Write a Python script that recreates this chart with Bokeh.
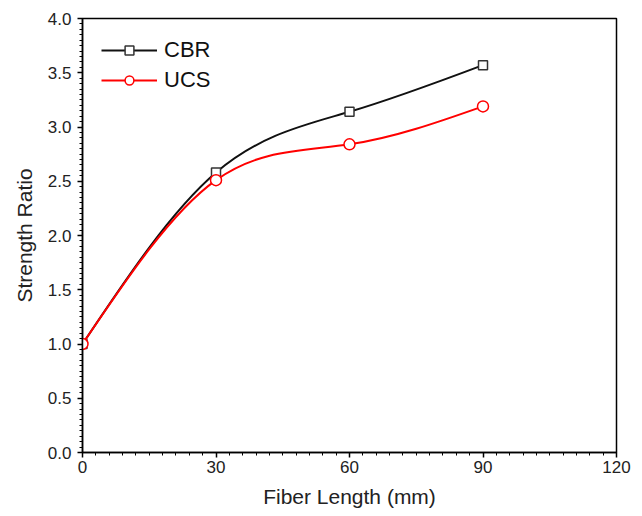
import numpy as np
from bokeh.plotting import figure
from bokeh.models import (Range1d, FixedTicker, PrintfTickFormatter,
                          Legend, LegendItem, ColumnDataSource)
from bokeh.embed import file_html
from bokeh.resources import INLINE

# ---- data ----
fiber_length = [0, 30, 60, 90]
cbr_ratio = [1.0, 2.58, 3.14, 3.57]
ucs_ratio = [1.0, 2.51, 2.84, 3.19]
series_names = ["CBR", "UCS"]
x_ticks = [0, 30, 60, 90, 120]
y_ticks = [0.0, 0.5, 1.0, 1.5, 2.0, 2.5, 3.0, 3.5, 4.0]


def spline_bezier(x, y):
    """Natural cubic spline through the points, returned as Bezier segments."""
    x = np.asarray(x, float)
    y = np.asarray(y, float)
    n = len(x)
    h = np.diff(x)
    d = np.diff(y) / h
    A = np.zeros((n, n))
    b = np.zeros(n)
    A[0, 0] = 1.0
    A[-1, -1] = 1.0
    for i in range(1, n - 1):
        A[i, i - 1] = h[i - 1]
        A[i, i] = 2 * (h[i - 1] + h[i])
        A[i, i + 1] = h[i]
        b[i] = 6 * (d[i] - d[i - 1])
    M = np.linalg.solve(A, b)
    sL = d - h * (2 * M[:-1] + M[1:]) / 6
    sR = d + h * (M[:-1] + 2 * M[1:]) / 6
    return dict(
        x0=x[:-1], y0=y[:-1], x1=x[1:], y1=y[1:],
        cx0=x[:-1] + h / 3, cy0=y[:-1] + sL * h / 3,
        cx1=x[1:] - h / 3, cy1=y[1:] - sR * h / 3,
    )


def minor_between(ticks, n):
    out = []
    for a, b in zip(ticks[:-1], ticks[1:]):
        step = (b - a) / n
        out.extend(a + step * k for k in range(1, n))
    return out


p = figure(width=642, height=516, output_backend="svg", toolbar_location=None,
           x_range=Range1d(0, 120), y_range=Range1d(0, 4.0),
           min_border_left=82, min_border_right=26,
           min_border_top=18, min_border_bottom=64)
p.background_fill_color = "white"
p.border_fill_color = "white"
p.xgrid.visible = False
p.ygrid.visible = False
p.outline_line_color = "black"
p.outline_line_width = 1.5

FONT = "Liberation Sans"

p.xaxis.ticker = FixedTicker(ticks=x_ticks, minor_ticks=minor_between(x_ticks, 10))
p.yaxis.ticker = FixedTicker(ticks=y_ticks, minor_ticks=minor_between(y_ticks, 10))
p.yaxis.formatter = PrintfTickFormatter(format="%.1f")
p.xaxis.axis_label = "Fiber Length (mm)"
p.yaxis.axis_label = "Strength Ratio"
for ax in (p.xaxis, p.yaxis):
    ax.axis_line_color = "black"
    ax.axis_line_width = 1.5
    ax.major_tick_line_color = "black"
    ax.major_tick_line_width = 1.5
    ax.minor_tick_line_color = "black"
    ax.minor_tick_line_width = 1
    ax.major_tick_in = 0
    ax.major_tick_out = 5
    ax.minor_tick_in = 0
    ax.minor_tick_out = 3
    ax.major_label_text_font = FONT
    ax.major_label_text_font_size = "17px"
    ax.major_label_text_color = "#222222"
    ax.axis_label_text_font = FONT
    ax.axis_label_text_font_size = "21px"
    ax.axis_label_text_font_style = "normal"
    ax.axis_label_text_color = "#222222"
p.xaxis.major_label_standoff = 3
p.xaxis.axis_label_standoff = 9
p.yaxis.major_label_standoff = 6
p.yaxis.axis_label_standoff = 9

styles = [
    dict(color="#111111", marker="square", mcolor="#333333", size=9),
    dict(color="#ff0000", marker="circle", mcolor="#ff0000", size=11),
]

items = []
for name, vals, st in zip(series_names, [cbr_ratio, ucs_ratio], styles):
    seg = ColumnDataSource(spline_bezier(fiber_length, vals))
    curve = p.bezier(x0="x0", y0="y0", x1="x1", y1="y1",
                     cx0="cx0", cy0="cy0", cx1="cx1", cy1="cy1",
                     source=seg, line_color=st["color"], line_width=2)
    pts = p.scatter(fiber_length, vals, marker=st["marker"], size=st["size"],
                    fill_color="white", line_color=st["mcolor"], line_width=1.5)
    items.append((name, curve, pts))

legend = Legend(items=[LegendItem(label=n, renderers=[c, s]) for n, c, s in items],
                location="top_left", border_line_color=None,
                background_fill_alpha=0, margin=19, padding=8,
                glyph_width=56, glyph_height=22, spacing=4,
                label_standoff=7, label_text_font=FONT,
                label_text_font_size="22px", label_text_color="#111111")
p.add_layout(legend)

open("out.html", "w").write(file_html(p, INLINE))
